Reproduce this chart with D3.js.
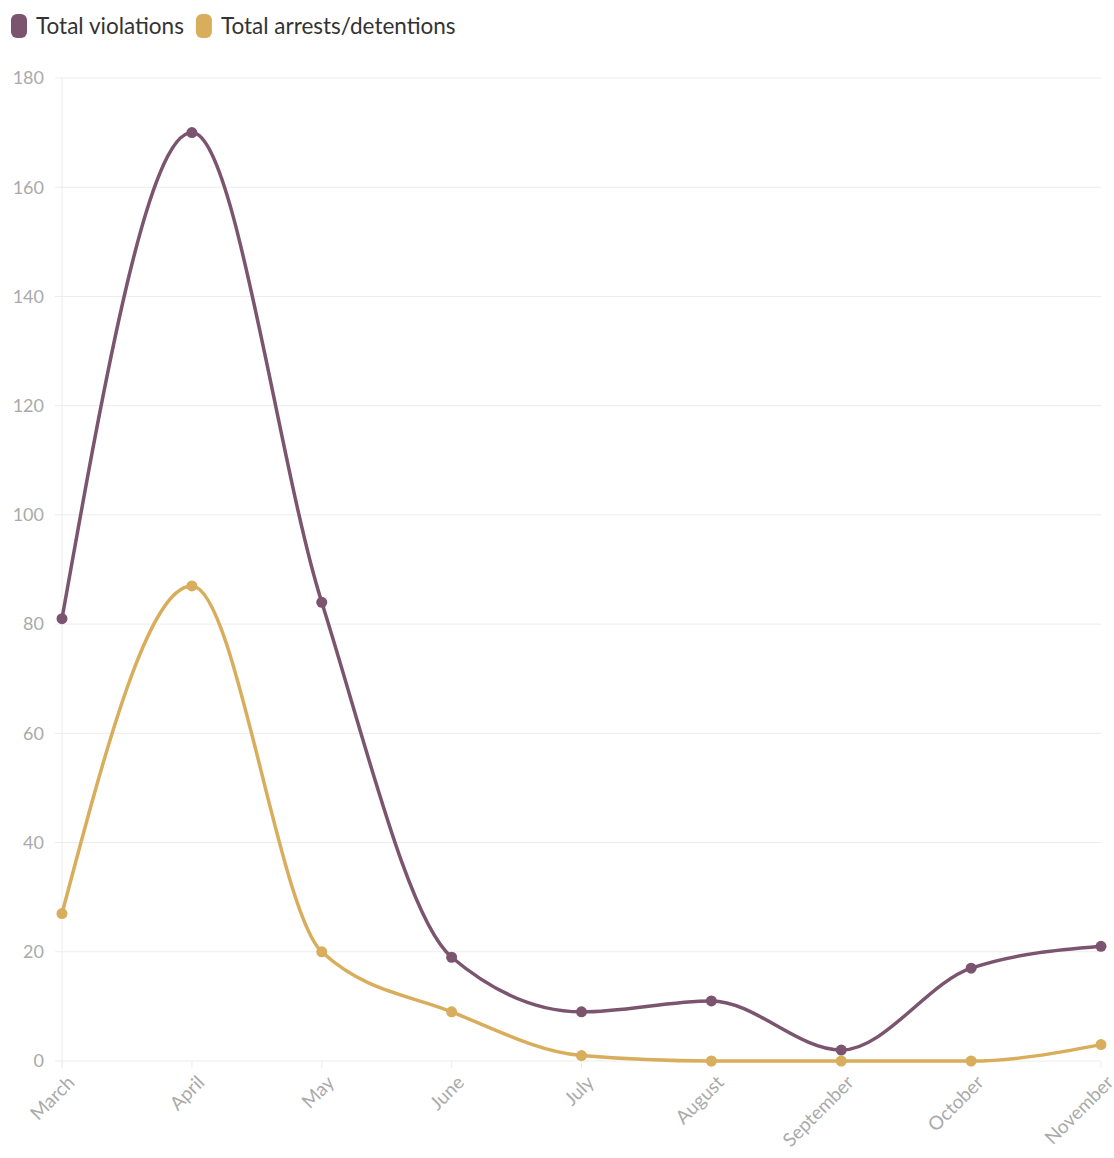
<!DOCTYPE html>
<html>
<head>
<meta charset="utf-8">
<script src="https://cdn.jsdelivr.net/npm/d3@7"></script>
<style>
  body { margin: 0; background: #fff; font-family: Lato, "Noto Sans", sans-serif; }
  svg { display: block; }
</style>
</head>
<body>
<svg width="1114" height="1158"></svg>
<script>
// Chart data
var months = ["March", "April", "May", "June", "July", "August", "September", "October", "November"]
  , violations = [81, 170, 84, 19, 9, 11, 2, 17, 21]
  , arrests = [27, 87, 20, 9, 1, 0, 0, 0, 3]
  , yTicks = [0, 20, 40, 60, 80, 100, 120, 140, 160, 180]
;

var series = [
    { name: "Total violations", values: violations, color: "#7b5470" }
  , { name: "Total arrests/detentions", values: arrests, color: "#d8ad5c" }
];

var margin = { left: 62, right: 13, top: 78, bottom: 97 }
  , svg = d3.select("svg")
  , width = +svg.attr("width")
  , height = +svg.attr("height")
  , innerWidth = width - margin.left - margin.right
  , innerHeight = height - margin.top - margin.bottom
;

var xScale = d3.scalePoint().domain(months).range([0, innerWidth])
  , yScale = d3.scaleLinear().domain([0, 180]).range([innerHeight, 0])
;

var g = svg.append("g")
    .attr("transform", "translate(" + [margin.left, margin.top] + ")");

// Horizontal grid lines
g.append("g").selectAll("line")
    .data(yTicks)
  .enter().append("line")
    .attr("x1", -7)
    .attr("x2", innerWidth)
    .attr("y1", function (d) { return yScale(d); })
    .attr("y2", function (d) { return yScale(d); })
    .attr("stroke", "#ececec")
    .attr("stroke-width", 1);

// y axis line
g.append("line")
    .attr("x1", 0).attr("x2", 0)
    .attr("y1", 0).attr("y2", innerHeight + 6)
    .attr("stroke", "#ececec");

// y axis labels
g.append("g").selectAll("text")
    .data(yTicks)
  .enter().append("text")
    .attr("x", -18)
    .attr("y", function (d) { return yScale(d); })
    .attr("dy", "0.35em")
    .attr("text-anchor", "end")
    .attr("fill", "#aaa")
    .style("font-size", "18px")
    .text(function (d) { return d; });

// x axis ticks
var xAxisG = g.append("g")
    .attr("transform", "translate(0," + innerHeight + ")");
xAxisG.selectAll("line")
    .data(months)
  .enter().append("line")
    .attr("x1", function (d) { return xScale(d); })
    .attr("x2", function (d) { return xScale(d); })
    .attr("y1", 0).attr("y2", 7)
    .attr("stroke", "#ececec");
xAxisG.selectAll("text")
    .data(months)
  .enter().append("text")
    .attr("text-anchor", "end")
    .attr("transform", function (d) {
        return "translate(" + (xScale(d) + 9) + ",18) rotate(-45)";
      })
    .attr("dy", "0.35em")
    .attr("fill", "#aaa")
    .style("font-size", "19px")
    .text(function (d) { return d; });

// Lines and points
var line = d3.line()
    .x(function (d, i) { return xScale(months[i]); })
    .y(function (d) { return yScale(d); })
    .curve(d3.curveMonotoneX);

var seriesG = g.selectAll(".series")
    .data(series)
  .enter().append("g")
    .attr("class", "series");

seriesG.append("path")
    .attr("d", function (s) { return line(s.values); })
    .attr("fill", "none")
    .attr("stroke", function (s) { return s.color; })
    .attr("stroke-width", 3.5);

seriesG.each(function (s) {
    d3.select(this).selectAll("circle")
        .data(s.values)
      .enter().append("circle")
        .attr("cx", function (d, i) { return xScale(months[i]); })
        .attr("cy", function (d) { return yScale(d); })
        .attr("r", 5.5)
        .attr("fill", s.color);
  });

// Legend
var legendG = svg.append("g").attr("transform", "translate(11,14)");
var xPos = 0;
series.forEach(function (s) {
    var item = legendG.append("g").attr("transform", "translate(" + xPos + ",0)");
    item.append("rect")
        .attr("width", 16).attr("height", 24)
        .attr("rx", 6).attr("ry", 6)
        .attr("fill", s.color);
    var t = item.append("text")
        .attr("x", 25).attr("y", 20)
        .attr("fill", "#333")
        .style("font-size", "22.5px")
        .text(s.name);
    xPos += 25 + t.node().getComputedTextLength() + 12;
  });
</script>
</body>
</html>
